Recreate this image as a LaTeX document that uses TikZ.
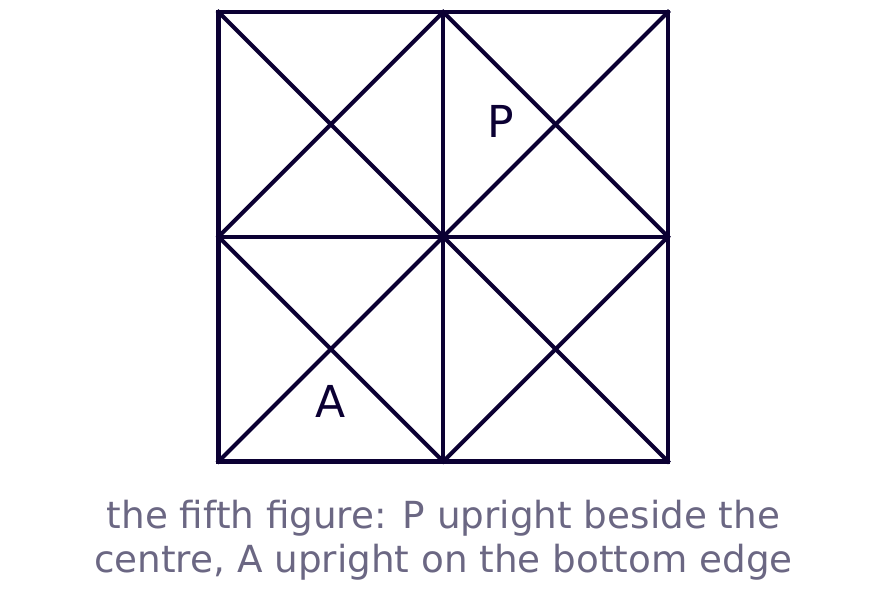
\documentclass[tikz,border=0pt]{standalone}
\usepackage{fontspec}
\setmainfont{DejaVu Sans}
\definecolor{ink}{HTML}{0B0033}
\definecolor{capc}{HTML}{6B6783}
\begin{document}
\begin{tikzpicture}[x=1pt,y=-1pt,
  edge/.style={draw=ink,line width=4.2pt,line cap=rect,line join=miter},
  lab/.style={text=ink,font=\fontsize{44}{48}\selectfont,inner sep=0pt,anchor=base},
  captxt/.style={text=capc,font=\fontsize{37.3}{44}\selectfont,inner sep=0pt,anchor=base}]
\useasboundingbox (0,0) rectangle (888,594);
\coordinate (tl) at (218.5,12);
\coordinate (tm) at (443.25,12);
\coordinate (tr) at (668,12);
\coordinate (ml) at (218.5,236.75);
\coordinate (c) at (443.25,236.75);
\coordinate (mr) at (668,236.75);
\coordinate (bl) at (218.5,461.5);
\coordinate (bm) at (443.25,461.5);
\coordinate (br) at (668,461.5);
\draw[edge] (tl) rectangle (br);
\draw[edge] (tm) -- (bm);
\draw[edge] (ml) -- (mr);
\draw[edge] (tl) -- (br);
\draw[edge] (tr) -- (bl);
\draw[edge] (tm) -- (ml) -- (bm) -- (mr) -- cycle;
\node[lab] (P) at (501,137) {P};
\node[lab] (A) at (330.5,417) {A};
\node[captxt] (cap1) at (443.5,528) {the fifth figure: P upright beside the};
\node[captxt] (cap2) at (443.5,572) {centre, A upright on the bottom edge};
\end{tikzpicture}
\end{document}
